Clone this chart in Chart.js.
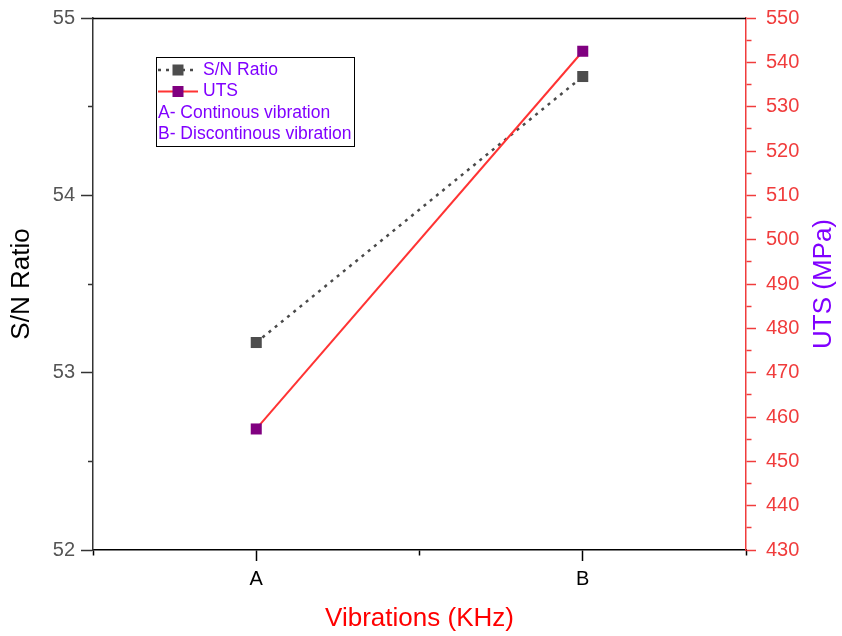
<!DOCTYPE html>
<html>
<head>
<meta charset="utf-8">
<script src="https://cdn.jsdelivr.net/npm/chart.js@4"></script>
<style>
  html, body { margin: 0; padding: 0; background: #fff; }
  #wrap { width: 842px; height: 636px; }
</style>
</head>
<body>
<div id="wrap"><canvas id="chart" width="842" height="636"></canvas></div>
<script>
const categories = ["A", "B"];
const snRatio = [53.17, 54.67];
const uts = [457.3, 542.5];
const legendNotes = ["A- Continous vibration", "B- Discontinous vibration"];

const FONT = "'Liberation Sans', Arial, sans-serif";
const AXIS_RED = "#f03c3c";
const PURPLE = "#8000ff";

function toPoints(values) {
  return values.map((v, i) => ({ x: i, y: v }));
}

// minor ticks drawn shorter with a dash pattern
const minorOuter = [5, 100];

// fixed axis sizes so the plot area sits where the original one does
function fixSize(w, h) {
  return s => {
    if (w) s.width = w;
    if (h) s.height = h;
    s.paddingTop = 0;
    s.paddingBottom = 0;
    s.paddingLeft = 0;
    s.paddingRight = 0;
  };
}

const frameAndLegend = {
  id: "frameAndLegend",
  afterDraw(chart) {
    const ctx = chart.ctx;
    const a = chart.chartArea;
    ctx.save();
    // top border
    ctx.strokeStyle = "#000";
    ctx.lineWidth = 1.5;
    ctx.beginPath();
    ctx.moveTo(a.left, a.top + 0.5);
    ctx.lineTo(a.right, a.top + 0.5);
    ctx.stroke();

    // right axis title, reading bottom to top
    ctx.save();
    ctx.translate(chart.width - 18, (a.top + a.bottom) / 2);
    ctx.rotate(-Math.PI / 2);
    ctx.font = "26px " + FONT;
    ctx.fillStyle = PURPLE;
    ctx.textAlign = "center";
    ctx.textBaseline = "middle";
    ctx.fillText("UTS (MPa)", 0, 0);
    ctx.restore();

    // legend box
    const bx = a.left + 63, by = a.top + 39, bw = 198, bh = 89;
    ctx.lineWidth = 1;
    ctx.strokeStyle = "#000";
    ctx.strokeRect(bx + 0.5, by + 0.5, bw, bh);

    ctx.font = "17.5px " + FONT;
    ctx.textBaseline = "middle";
    ctx.fillStyle = PURPLE;
    const rowH = 21.5;
    const sets = chart.data.datasets.slice().sort((p, q) => p.legendIndex - q.legendIndex);
    sets.forEach((ds, i) => {
      const y = by + 13 + i * rowH;
      ctx.save();
      ctx.strokeStyle = ds.borderColor;
      ctx.lineWidth = ds.borderWidth;
      ctx.setLineDash(ds.borderDash || []);
      ctx.beginPath();
      ctx.moveTo(bx + 2, y);
      ctx.lineTo(bx + 42, y);
      ctx.stroke();
      ctx.fillStyle = ds.pointBackgroundColor;
      ctx.fillRect(bx + 22 - 5.5, y - 5.5, 11, 11);
      ctx.restore();
      ctx.fillText(ds.label, bx + 47, y);
    });
    legendNotes.forEach((t, i) => {
      const y = by + 13 + (i + 2) * rowH;
      ctx.fillText(t, bx + 2, y);
    });
    ctx.restore();
  }
};

new Chart(document.getElementById("chart"), {
  type: "line",
  data: {
    datasets: [
      {
        label: "UTS",
        legendIndex: 1,
        data: toPoints(uts),
        yAxisID: "y2",
        borderColor: "#ff3333",
        borderWidth: 2,
        pointStyle: "rect",
        pointRadius: 7.8,
        pointBackgroundColor: "#800080",
        pointBorderColor: "#800080",
        pointBorderWidth: 0,
        order: 1
      },
      {
        label: "S/N Ratio",
        legendIndex: 0,
        data: toPoints(snRatio),
        yAxisID: "y",
        borderColor: "#4a4a4a",
        borderWidth: 2.5,
        borderDash: [3, 5],
        pointStyle: "rect",
        pointRadius: 7.8,
        pointBackgroundColor: "#4d4d4d",
        pointBorderColor: "#4d4d4d",
        pointBorderWidth: 0,
        order: 2
      }
    ]
  },
  options: {
    responsive: false,
    animation: false,
    layout: { padding: { top: 18, left: 0, right: 0, bottom: 0 } },
    plugins: { legend: { display: false }, tooltip: { enabled: false } },
    scales: {
      x: {
        type: "linear",
        min: -0.5,
        max: 1.5,
        afterFit: fixSize(0, 86),
        ticks: {
          stepSize: 0.5,
          autoSkip: false,
          maxRotation: 0,
          color: "#000",
          padding: 6,
          font: { family: FONT, size: 20 },
          callback: v => Number.isInteger(v) && categories[v] !== undefined ? categories[v] : ""
        },
        grid: {
          drawOnChartArea: false,
          drawTicks: true,
          tickLength: 11,
          tickColor: "#000",
          tickWidth: 1.5,
          tickBorderDash: c => Number.isInteger(c.tick.value) ? [] : minorOuter
        },
        border: { display: true, color: "#000", width: 1.5 },
        title: {
          display: true,
          text: "Vibrations (KHz)",
          color: "#ff0000",
          font: { family: FONT, size: 26 },
          padding: { top: 0, bottom: 2 }
        }
      },
      y: {
        position: "left",
        min: 52,
        max: 55,
        afterFit: fixSize(93, 0),
        ticks: {
          stepSize: 0.5,
          autoSkip: false,
          color: "#555",
          padding: 6,
          font: { family: FONT, size: 20 },
          callback: v => Number.isInteger(v) ? v : ""
        },
        grid: {
          drawOnChartArea: false,
          tickLength: 12,
          tickColor: "#333",
          tickWidth: 1.5,
          tickBorderDash: c => Number.isInteger(c.tick.value) ? [] : [0, 7, 5, 100]
        },
        border: { display: true, color: "#333", width: 1.5 },
        title: {
          display: true,
          text: "S/N Ratio",
          color: "#000",
          font: { family: FONT, size: 26 },
          padding: { top: 6, bottom: 0 }
        }
      },
      y2: {
        position: "right",
        min: 430,
        max: 550,
        afterFit: fixSize(96, 0),
        ticks: {
          stepSize: 5,
          autoSkip: false,
          color: AXIS_RED,
          padding: 10,
          font: { family: FONT, size: 20 },
          callback: v => v % 10 === 0 ? v : ""
        },
        grid: {
          drawOnChartArea: false,
          tickLength: 10,
          tickColor: AXIS_RED,
          tickWidth: 1.5,
          tickBorderDash: c => c.tick.value % 10 === 0 ? [] : minorOuter
        },
        border: { display: true, color: AXIS_RED, width: 1.5 }
      }
    }
  },
  plugins: [frameAndLegend]
});
</script>
</body>
</html>
